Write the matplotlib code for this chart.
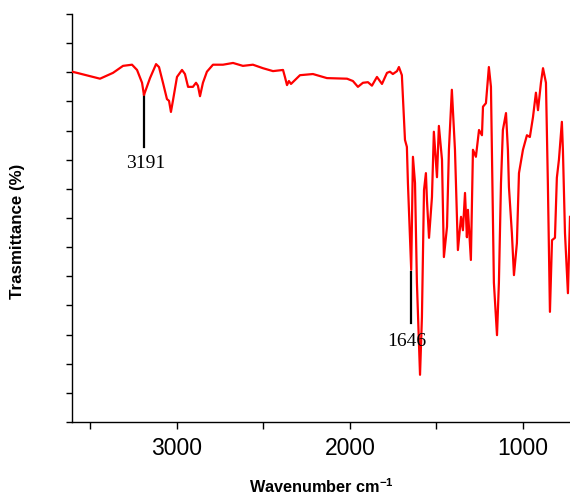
import matplotlib
matplotlib.use("Agg")
import matplotlib.pyplot as plt

# FTIR spectrum (wavenumber in cm^-1, transmittance in %)
wavenumber = [
    3607, 3578, 3445, 3370, 3312, 3260, 3231, 3202, 3191, 3156,
    3121, 3104, 3081, 3058, 3046, 3035, 3023, 3000, 2971, 2954,
    2936, 2908, 2890, 2879, 2867, 2850, 2827, 2792, 2734, 2676,
    2619, 2561, 2503, 2445, 2387, 2376, 2364, 2353, 2341, 2289,
    2214, 2133, 2017, 1983, 1954, 1925, 1896, 1873, 1844, 1815,
    1786, 1769, 1752, 1728, 1717, 1700, 1682, 1671, 1665, 1646,
    1636, 1624, 1613, 1595, 1584, 1572, 1561, 1555, 1543, 1526,
    1515, 1497, 1486, 1468, 1457, 1439, 1428, 1411, 1393, 1376,
    1358, 1347, 1335, 1324, 1318, 1301, 1289, 1272, 1254, 1237,
    1231, 1214, 1197, 1185, 1174, 1168, 1150, 1139, 1127, 1116,
    1098, 1087, 1081, 1064, 1052, 1035, 1023, 1000, 977, 960,
    942, 925, 913, 896, 884, 867, 856, 844, 832, 815,
    804, 792, 780, 775, 769, 757, 740, 728,
]
transmittance = [
    60.1, 59.9, 58.9, 59.9, 61.1, 61.3, 60.4, 58.2, 56.1, 59.0,
    61.4, 60.9, 58.2, 55.4, 55.1, 53.2, 55.2, 59.2, 60.4, 59.7,
    57.5, 57.5, 58.2, 57.7, 55.9, 58.2, 60.1, 61.3, 61.3, 61.6,
    61.1, 61.3, 60.7, 60.2, 60.4, 59.2, 57.8, 58.5, 58.0, 59.5,
    59.7, 59.0, 58.9, 58.5, 57.5, 58.2, 58.3, 57.7, 59.2, 58.0,
    59.9, 60.1, 59.7, 60.2, 60.9, 59.5, 48.4, 47.2, 41.0, 26.1,
    45.5, 41.0, 23.9, 8.1, 18.0, 39.8, 42.7, 38.1, 31.6, 38.6,
    49.8, 42.0, 50.8, 45.0, 28.3, 33.5, 46.7, 57.0, 46.7, 29.5,
    35.2, 32.9, 39.3, 31.7, 36.4, 27.8, 46.7, 45.5, 50.1, 49.2,
    54.1, 54.7, 60.9, 57.5, 35.2, 23.9, 14.9, 23.9, 41.0, 50.1,
    53.0, 46.7, 40.3, 32.4, 25.2, 30.7, 42.7, 46.7, 49.2, 48.9,
    52.3, 56.5, 53.5, 58.2, 60.7, 58.2, 41.0, 18.9, 31.2, 31.6,
    41.9, 45.0, 49.6, 51.5, 46.7, 32.4, 22.1, 35.2,
]

# Peak annotations
peak_pos = [3191, 1646]
peak_line_lo = [47.2, 17.0]
peak_line_hi = [56.1, 25.7]
peak_label = ["3191", "1646"]
label_x = [3180, 1670]
label_y = [45.8, 15.3]

xticks_major = [3000, 2000, 1000]
xticks_minor = [3500, 2500, 1500]

plt.rcParams["mathtext.fontset"] = "custom"
plt.rcParams["mathtext.bf"] = "Liberation Sans:bold"
plt.rcParams["mathtext.rm"] = "Liberation Sans"

fig = plt.figure(figsize=(5.70, 4.98), dpi=100)
ax = fig.add_axes([0.1263, 0.1526, 0.8737, 0.8193])

ax.plot(wavenumber, transmittance, color="#ff0000", lw=1.6, zorder=3)

for w, lo, hi, lab, lx, ly in zip(peak_pos, peak_line_lo, peak_line_hi,
                                   peak_label, label_x, label_y):
    ax.plot([w, w], [lo, hi], color="black", lw=1.6, zorder=2)
    ax.text(lx, ly, lab, ha="center", va="top", fontsize=14,
            family="Liberation Serif", color="black")

ax.set_xlim(3607, 728)
ax.set_ylim(0, 70)
ax.set_xticks(xticks_major)
ax.set_xticks(xticks_minor, minor=True)
ax.set_xticklabels([str(t) for t in xticks_major], family="Liberation Sans",
                   fontsize=16.5)
ax.set_yticks(range(0, 71, 5))
ax.set_yticklabels([])

for s in ("top", "right"):
    ax.spines[s].set_visible(False)
for s in ("left", "bottom"):
    ax.spines[s].set_linewidth(1.0)

ax.tick_params(axis="x", which="both", direction="out", length=5, width=1,
               pad=6)
ax.tick_params(axis="y", which="both", direction="out", length=4, width=1)

ax.set_xlabel(r"Wavenumber cm$^{\mathbf{-1}}$", family="Liberation Sans",
              fontweight="bold", fontsize=11.7, labelpad=12)
ax.set_ylabel("Trasmittance (%)", family="Liberation Sans",
              fontweight="bold", fontsize=12.2)
ax.yaxis.set_label_coords(-0.094, 0.466)

fig.savefig("out.png", dpi=100)
